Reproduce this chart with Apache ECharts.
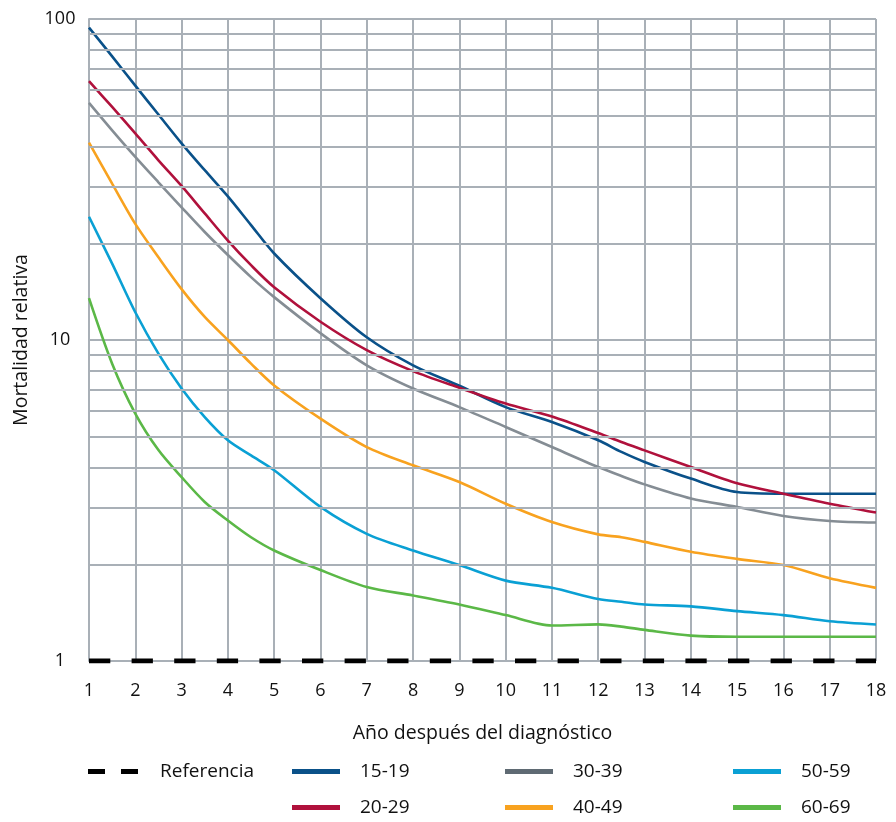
<!DOCTYPE html>
<html>
<head>
<meta charset="utf-8">
<script src="https://cdn.jsdelivr.net/npm/echarts@6/dist/echarts.min.js"></script>
<style>html,body{margin:0;padding:0;background:#fff}#c{width:896px;height:822px}</style>
</head>
<body>
<div id="c"></div>
<script>
const years = [1, 1.5, 2, 2.5, 3, 3.5, 4, 4.5, 5, 6, 7, 8, 9, 10, 11, 12, 12.5, 13, 14, 15, 16, 17, 18];
const s15_19 = [94, 76.5, 62, 50.4, 41, 33.8, 28, 22.8, 18.6, 13.5, 10.2, 8.34, 7.2, 6.18, 5.55, 4.87, 4.48, 4.17, 3.70, 3.36, 3.32, 3.32, 3.32];
const s20_29 = [64, 53.2, 44, 36.3, 30.2, 24.8, 20.4, 17.1, 14.6, 11.4, 9.3, 8.0, 7.1, 6.34, 5.78, 5.13, 4.81, 4.53, 4.02, 3.58, 3.32, 3.09, 2.90];
const s30_39 = [54.8, 45, 37.2, 31.0, 25.9, 21.7, 18.4, 15.7, 13.6, 10.5, 8.34, 7.06, 6.18, 5.36, 4.64, 4.02, 3.77, 3.55, 3.21, 3.02, 2.83, 2.73, 2.70];
const s40_49 = [41.2, 30.7, 23.0, 18.1, 14.4, 11.8, 10.0, 8.44, 7.22, 5.69, 4.64, 4.07, 3.61, 3.09, 2.71, 2.48, 2.43, 2.35, 2.19, 2.08, 1.99, 1.81, 1.69];
const s50_59 = [24.2, 17.3, 12.2, 9.07, 7.06, 5.75, 4.87, 4.37, 3.93, 3.02, 2.49, 2.21, 1.99, 1.78, 1.69, 1.56, 1.53, 1.50, 1.48, 1.43, 1.39, 1.33, 1.30];
const s60_69 = [13.5, 8.44, 5.9, 4.54, 3.74, 3.13, 2.74, 2.43, 2.21, 1.92, 1.70, 1.60, 1.50, 1.39, 1.29, 1.30, 1.28, 1.25, 1.20, 1.19, 1.19, 1.19, 1.19];
const refYears = [1, 18];
const refValues = [1, 1];
const minorGridValues = [2, 3, 4, 5, 6, 7, 8, 9, 20, 30, 40, 50, 60, 70, 80, 90];
const yTickLabels = ['1', '10', '100'];

const FONT = 'Open Sans';
const GRID = '#a9b0b7';
const names = ['15-19', '20-29', '30-39', '40-49', '50-59', '60-69'];
const colors = ['#0a5189', '#b0113c', '#858d94', '#f8a21f', '#0aa0d4', '#5bb847'];
const legendColors = ['#0a5189', '#b0113c', '#5f6a73', '#f8a21f', '#0aa0d4', '#5bb847'];
const allData = [s15_19, s20_29, s30_39, s40_49, s50_59, s60_69];

function pairs(xs, ys) { return xs.map((x, i) => [x, ys[i]]); }

const series = [{
  name: '_grid', type: 'line', data: [], silent: true, z: 1,
  markLine: {
    silent: true, symbol: 'none', animation: false,
    label: { show: false },
    lineStyle: { color: GRID, width: 2, type: 'solid' },
    data: minorGridValues.map(v => ({ yAxis: v }))
  }
}];
allData.forEach((d, i) => {
  series.push({
    name: names[i], type: 'line', data: pairs(years, d),
    smooth: 0.3, showSymbol: false, symbol: 'none', z: 3,
    lineStyle: { color: colors[i], width: 2.6 },
    itemStyle: { color: legendColors[i] },
    animation: false
  });
});
series.push({
  name: 'Referencia', type: 'line', data: pairs(refYears, refValues),
  showSymbol: false, symbol: 'none', z: 4, animation: false,
  lineStyle: { color: '#000', width: 5, type: [21.3, 21.3] },
  itemStyle: { color: '#000' }
});

function leg(name, left, top, extra) {
  return Object.assign({
    left: left, top: top, padding: 0, itemWidth: 48, itemHeight: 5,
    icon: 'rect', selectedMode: false,
    textStyle: { fontFamily: FONT, fontSize: 19, color: '#111', padding: [0, 0, 0, 15] },
    data: [name]
  }, extra || {});
}
const row1 = 762, row2 = 798;

const chart = echarts.init(document.getElementById('c'));
chart.setOption({
  animation: false,
  grid: { left: 89, right: 20, top: 19, bottom: 161, containLabel: false, outerBoundsMode: 'none' },
  xAxis: {
    type: 'value', min: 1, max: 18, interval: 1,
    name: 'Año después del diagnóstico', nameLocation: 'middle', nameGap: 62,
    nameTextStyle: { fontFamily: FONT, fontSize: 19.5, color: '#111' },
    axisLine: { show: false }, axisTick: { show: false },
    axisLabel: { fontFamily: FONT, fontSize: 18, color: '#111', margin: 21 },
    splitLine: { show: true, lineStyle: { color: GRID, width: 2 } }
  },
  yAxis: {
    type: 'log', logBase: 10, min: 1, max: 100,
    name: 'Mortalidad relativa', nameLocation: 'middle', nameGap: 58, nameRotate: 90,
    nameTextStyle: { fontFamily: FONT, fontSize: 19.5, color: '#111' },
    axisLine: { show: true, lineStyle: { color: GRID, width: 2 } }, axisTick: { show: false },
    axisLabel: { fontFamily: FONT, fontSize: 18, color: '#111', margin: 29, align: 'center',
      formatter: v => yTickLabels.find(t => Number(t) === Math.round(v)) || '' },
    splitLine: { show: true, lineStyle: { color: GRID, width: 2 } },
    minorTick: { show: false }, minorSplitLine: { show: false }
  },
  legend: [
    leg({ name: 'Referencia', icon: 'path://M0,0H17V5H0Z M33,0H50V5H33Z', itemStyle: { color: '#000' } }, 88, row1, { itemWidth: 50, textStyle: { fontFamily: FONT, fontSize: 19, color: '#111', padding: [0, 0, 0, 17] } }),
    leg('15-19', 292, row1),
    leg('20-29', 292, row2),
    leg('30-39', 505, row1),
    leg('40-49', 505, row2),
    leg('50-59', 733, row1),
    leg('60-69', 733, row2)
  ],
  series: series
});
</script>
</body>
</html>
